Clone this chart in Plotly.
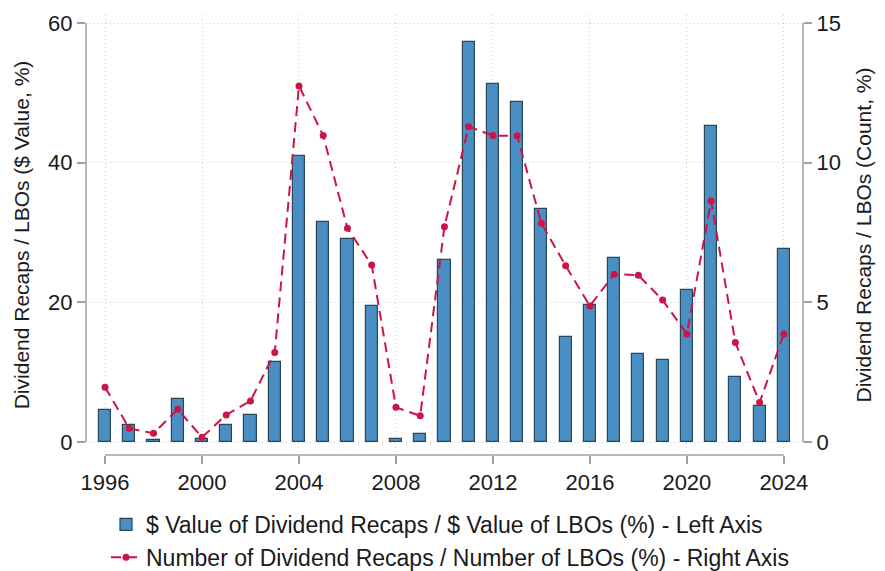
import plotly.graph_objects as go

years = list(range(1996, 2025))
value_pct = [4.6, 2.4, 0.3, 6.2, 0.4, 2.4, 3.9, 11.4, 41.0, 31.5,
             29.1, 19.5, 0.5, 1.2, 26.0, 57.3, 51.3, 48.7, 33.3, 15.1,
             19.6, 26.3, 12.6, 11.8, 21.8, 45.2, 9.3, 5.1, 27.7]
count_pct = [1.96, 0.49, 0.31, 1.17, 0.17, 0.97, 1.47, 3.2, 12.75, 10.97,
             7.65, 6.34, 1.24, 0.94, 7.71, 11.29, 10.97, 10.96, 7.83, 6.31,
             4.87, 6.01, 5.97, 5.08, 3.87, 8.63, 3.56, 1.41, 3.87]
x_ticks = [1996, 2000, 2004, 2008, 2012, 2016, 2020, 2024]
left_ticks = [0, 20, 40, 60]
right_ticks = [0, 5, 10, 15]

FONT = "Liberation Sans, Arial, sans-serif"
TXT = "#1a1a1a"
AX = "#a0a0a0"
GRID = "#d0d0d0"

fig = go.Figure()
fig.add_trace(go.Bar(
    x=years, y=value_pct, width=0.5,
    marker=dict(color="#4a8fc3", line=dict(color="#2a4659", width=1.2)),
    name="$ Value of Dividend Recaps / $ Value of LBOs (%) - Left Axis",
    yaxis="y",
))
fig.add_trace(go.Scatter(
    x=years, y=count_pct, mode="lines+markers",
    line=dict(color="#cc1447", width=2, dash="10px,6px"),
    marker=dict(color="#cc1447", size=7),
    name="Number of Dividend Recaps / Number of LBOs (%) - Right Axis",
    yaxis="y2",
))

# axis lines spanning only the tick range (Stata style)
for xp in [0, 1]:
    fig.add_shape(type="line", xref="paper", yref="y", x0=xp, x1=xp,
                  y0=left_ticks[0], y1=left_ticks[-1],
                  line=dict(color=AX, width=1.5), layer="above")
fig.add_shape(type="line", xref="x", yref="paper", x0=x_ticks[0], x1=x_ticks[-1], y0=0, y1=0,
              line=dict(color=AX, width=1.5), layer="above")

# the page body has an 8px margin, so the figure is 8px smaller than the window
fig.update_layout(
    width=877, height=563,
    margin=dict(l=78, r=82, t=7, b=116, autoexpand=False),
    paper_bgcolor="white", plot_bgcolor="white",
    font=dict(family=FONT, size=22, color=TXT),
    bargap=0,
    xaxis=dict(
        range=[1995.215, 2024.79], tickvals=x_ticks,
        ticks="outside", ticklen=8, tickcolor=AX, tickwidth=1.5,
        showline=False, zeroline=False, automargin=False,
        showgrid=True, gridcolor=GRID, griddash="1px,3px", gridwidth=1,
        tickfont=dict(size=22, color=TXT),
    ),
    yaxis=dict(
        range=[-1.862, 61.15], tickvals=left_ticks,
        ticks="outside", ticklen=8, tickcolor=AX, tickwidth=1.5,
        showline=False, zeroline=False, automargin=False,
        showgrid=True, gridcolor=GRID, griddash="1px,3px", gridwidth=1,
        tickfont=dict(size=22, color=TXT),
        title=dict(text="Dividend Recaps / LBOs ($ Value, %)", font=dict(size=21, color=TXT), standoff=12),
    ),
    yaxis2=dict(
        range=[-0.4655, 15.2875], tickvals=right_ticks,
        overlaying="y", side="right",
        ticks="outside", ticklen=8, tickcolor=AX, tickwidth=1.5,
        showline=False, zeroline=False, showgrid=False, automargin=False,
        tickfont=dict(size=22, color=TXT),
        title=dict(text="Dividend Recaps / LBOs (Count, %)", font=dict(size=21, color=TXT), standoff=16),
    ),
    legend=dict(
        orientation="v", x=(106 - 86) / 717, y=-0.109, xanchor="left", yanchor="top",
        font=dict(size=23, color=TXT), bgcolor="rgba(0,0,0,0)",
        tracegroupgap=0, itemwidth=30,
    ),
    showlegend=True,
)

fig.write_html("out.html")
